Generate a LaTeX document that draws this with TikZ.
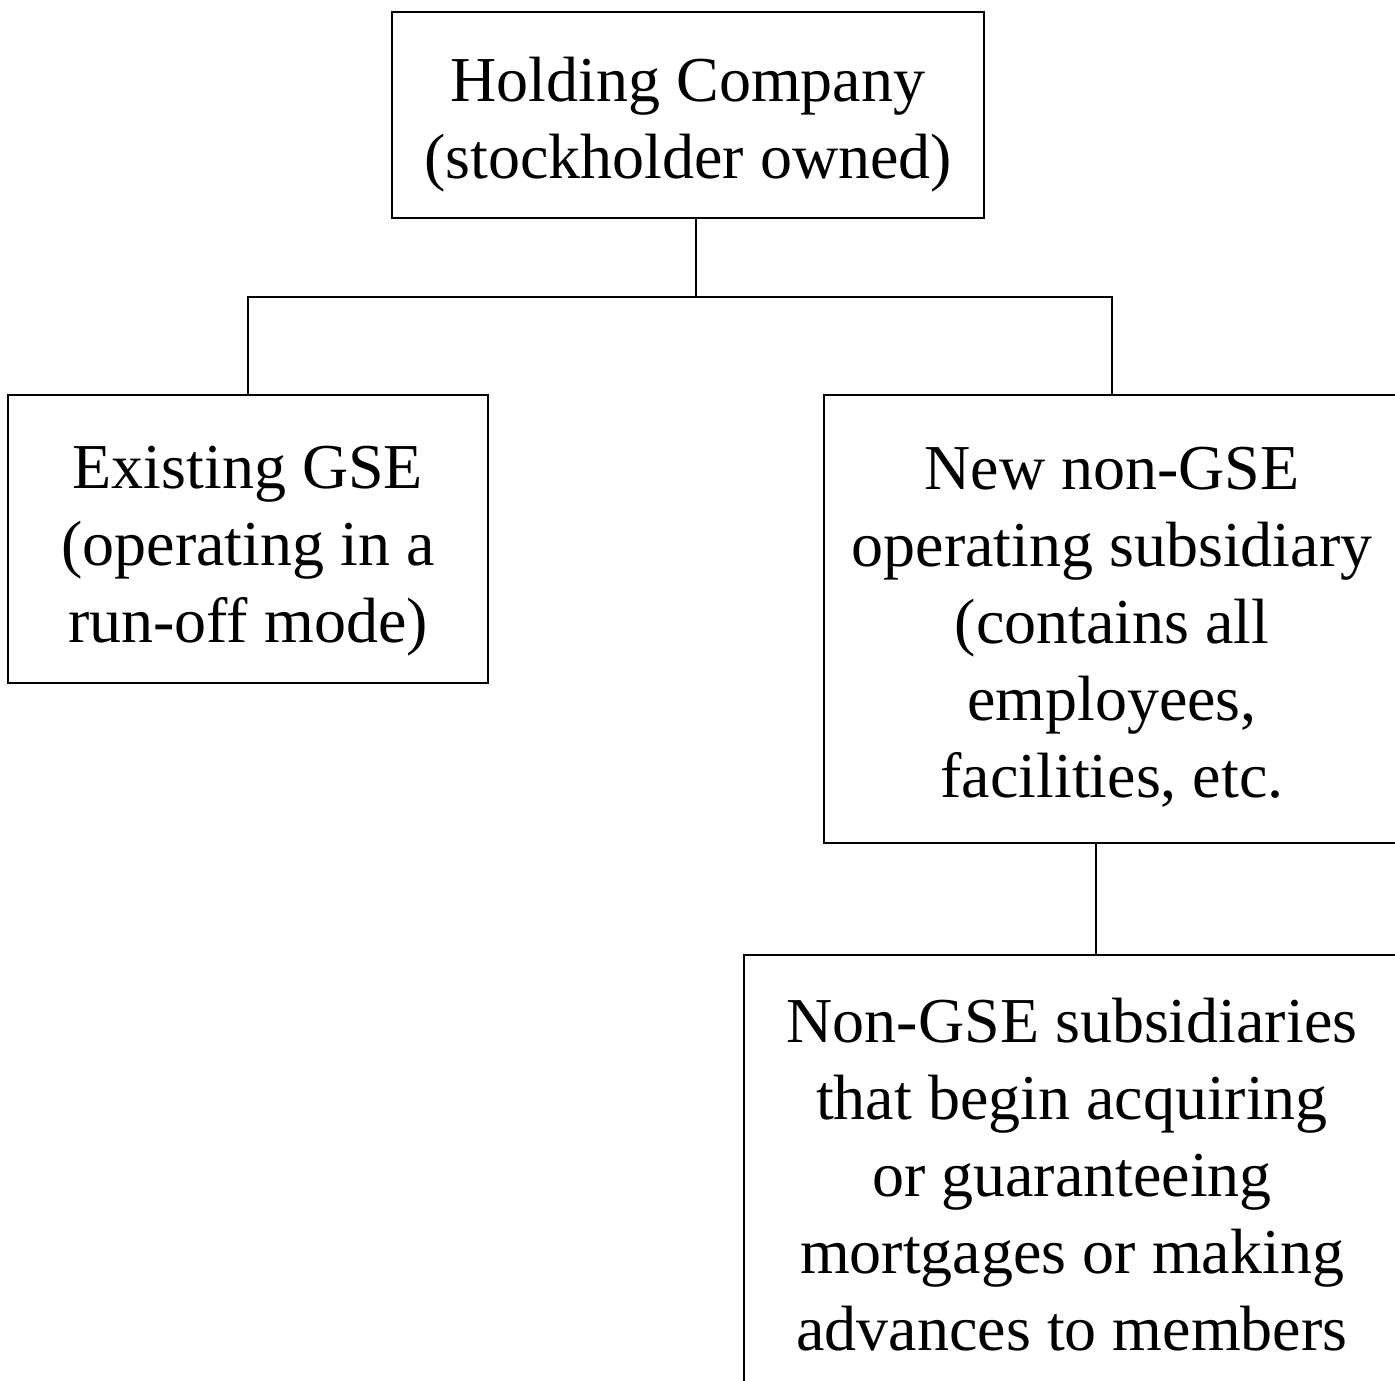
\documentclass[tikz,border=0pt]{standalone}
\usepackage{fontspec}
\setmainfont{Liberation Serif}
\begin{document}
\begin{tikzpicture}[x=1pt,y=-1pt,
  orgbox/.style={draw=black,line width=2pt,inner sep=0pt},
  orgtext/.style={inner sep=0pt,align=center,font=\fontsize{64}{77}\selectfont},
  link/.style={draw=black,line width=1.6pt}]
\useasboundingbox (0,0) rectangle (1395,1381);
\clip (0,0) rectangle (1395,1381);
\node[orgbox,minimum width=592pt,minimum height=206pt] (hold) at (688,115) {};
\node[orgtext,yshift=-10pt] (holdtext) at (hold.center)
  {Holding Company\\(stockholder owned)};
\node[orgbox,minimum width=480pt,minimum height=288pt] (gse) at (248,539) {};
\node[orgtext,yshift=-12pt] (gsetext) at (gse.center)
  {Existing GSE\\(operating in a\\run-off mode)};
\node[orgbox,minimum width=576pt,minimum height=448pt] (newsub) at (1112,619) {};
\node[orgtext,yshift=-8pt] (newsubtext) at (newsub.center)
  {New non-GSE\\operating subsidiary\\(contains all\\employees,\\facilities, etc.};
\node[orgbox,minimum width=656pt,minimum height=445pt] (subs) at (1072,1177.5) {};
\node[orgtext,yshift=3pt] (substext) at (subs.center)
  {Non-GSE subsidiaries\\that begin acquiring\\or guaranteeing\\mortgages or making\\advances to members};
\coordinate (top) at ([xshift=8pt]hold.south);
\coordinate (bar) at ([yshift=97pt]gse.north);
\draw[link] (top) -- (top |- bar);
\draw[link] (gse.north) -- (bar) -| (newsub.north);
\coordinate (low) at ([xshift=-16pt]newsub.south);
\draw[link] (low) -- (low |- subs.north);
\end{tikzpicture}
\end{document}
